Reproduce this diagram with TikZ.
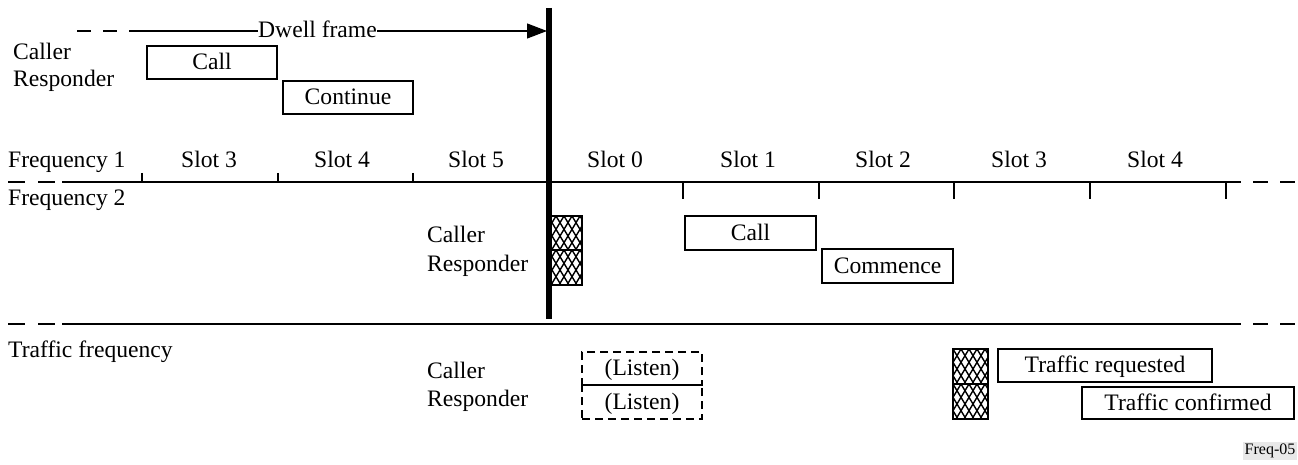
\documentclass[tikz,border=0pt]{standalone}
\usepackage{fontspec}
\setmainfont{Liberation Serif}
\usetikzlibrary{arrows.meta}
\tikzset{
  lbl/.style={font=\fontsize{23.6}{28}\selectfont, inner sep=0pt, anchor=base west},
  slotlbl/.style={font=\fontsize{23.6}{28}\selectfont, inner sep=0pt, anchor=base},
  msgbox/.style={draw, line width=1.1pt, font=\fontsize{23.6}{28}\selectfont, inner sep=0pt,
     text height=18.9pt, text depth=4.7pt},
  listenbox/.style={msgbox, dash pattern=on 8pt off 5pt},
  thinline/.style={line width=1.1pt},
  dashline/.style={line width=1.1pt, dash pattern=on 15pt off 12pt},
  tick/.style={line width=1.1pt},
  hatchline/.style={line width=1.4pt},
}
\newcommand{\hatchcell}[4]{%
  \begin{scope}
    \clip (#1,#2) rectangle (#3,#4);
    \fill[white] (#1,#2) rectangle (#3,#4);
    \foreach \k in {-40,-32,...,80} {
      \draw[hatchline] (#1+\k,#2) -- ++(24,40);
      \draw[hatchline] (#1+\k,#2) -- ++(-24,40);
    }
  \end{scope}
  \draw[thinline] (#1,#2) rectangle (#3,#4);
}
\begin{document}
\begin{tikzpicture}[x=1pt,y=-1pt]
\useasboundingbox (0,0) rectangle (1298,465);

% ---------- top: dwell frame ----------
\coordinate (dwS) at (77,31);
\coordinate (dwM) at (143,31);
\coordinate (dwTip) at (547,31);
\node[slotlbl] (dwell) at (317.5,38) {Dwell frame};
\draw[thinline, dash pattern=on 14pt off 12pt] (dwS) -- (dwM);
\draw[thinline] (dwM) -- (dwM -| dwell.west);
\draw[thinline, -{Triangle[length=20pt,width=15pt]}] (dwell.east |- dwTip) -- (dwTip);

\node[lbl] (caller1) at (13,60) {Caller};
\node[lbl] (resp1) at (13,87) {Responder};
\node[msgbox, minimum width=130pt, minimum height=33pt] (call1) at (212,62.5) {Call};
\node[msgbox, minimum width=130pt, minimum height=33pt] (cont1) at (348,97.5) {Continue};

% ---------- frequency line ----------
\coordinate (fL) at (8,182);
\coordinate (fa) at (62,182);
\coordinate (fb) at (1226,182);
\coordinate (fR) at (1298,182);
\draw[thinline, dash pattern=on 17pt off 13pt] (fL) -- (fa);
\draw[thinline] (fa) -- (fb);
\draw[dashline] (fb) -- (fR);

\node[lbl] (freq1) at (8,168) {Frequency 1};
\node[slotlbl] (s3a) at (209,168) {Slot 3};
\node[slotlbl] (s4a) at (342,168) {Slot 4};
\node[slotlbl] (s5a) at (476,168) {Slot 5};
\node[slotlbl] (s0) at (615,168) {Slot 0};
\node[slotlbl] (s1) at (748,168) {Slot 1};
\node[slotlbl] (s2) at (883,168) {Slot 2};
\node[slotlbl] (s3b) at (1019,168) {Slot 3};
\node[slotlbl] (s4b) at (1155,168) {Slot 4};

\foreach \x in {142,278,413} \draw[tick] (\x,173) -- (\x,182);
\foreach \x in {683,819,954,1090,1226} \draw[tick] (\x,182) -- (\x,199);

\node[lbl] (freq2) at (8,206) {Frequency 2};

% ---------- frequency 2 exchange ----------
\node[lbl] (caller2) at (427,243) {Caller};
\node[lbl] (resp2) at (427,271) {Responder};
\hatchcell{548}{216}{582}{250}
\hatchcell{548}{250}{582}{285}
\node[msgbox, minimum width=131pt, minimum height=34pt] (call2) at (750.5,233) {Call};
\node[msgbox, minimum width=131pt, minimum height=34pt] (comm) at (887.5,266) {Commence};

% thick boundary bar
\coordinate (barT) at (549,8);
\coordinate (barB) at (549,319);
\draw[line width=6pt] (barT) -- (barB);

% ---------- traffic line ----------
\coordinate (tL) at (8,324);
\coordinate (ta) at (62,324);
\coordinate (tb) at (1226,324);
\coordinate (tR) at (1298,324);
\draw[thinline, dash pattern=on 17pt off 13pt] (tL) -- (ta);
\draw[thinline] (ta) -- (tb);
\draw[dashline] (tb) -- (tR);

\node[lbl] (traf) at (8,357) {Traffic frequency};
\node[lbl] (caller3) at (427,378) {Caller};
\node[lbl] (resp3) at (427,406) {Responder};
\node[listenbox, minimum width=120pt, minimum height=33pt] (lis1) at (642,368.5) {(Listen)};
\node[listenbox, minimum width=120pt, minimum height=34pt] (lis2) at (642,402) {(Listen)};

\hatchcell{953}{349}{988}{384}
\hatchcell{953}{384}{988}{419}
\node[msgbox, minimum width=214pt, minimum height=33pt] (treq) at (1105,365.5) {Traffic requested};
\node[msgbox, minimum width=212pt, minimum height=32pt] (tconf) at (1188,403) {Traffic confirmed};

\node[fill=gray!18, inner sep=2pt, font=\fontsize{16}{18}\selectfont] (tag) at (1270,451) {Freq-05};
\end{tikzpicture}
\end{document}
